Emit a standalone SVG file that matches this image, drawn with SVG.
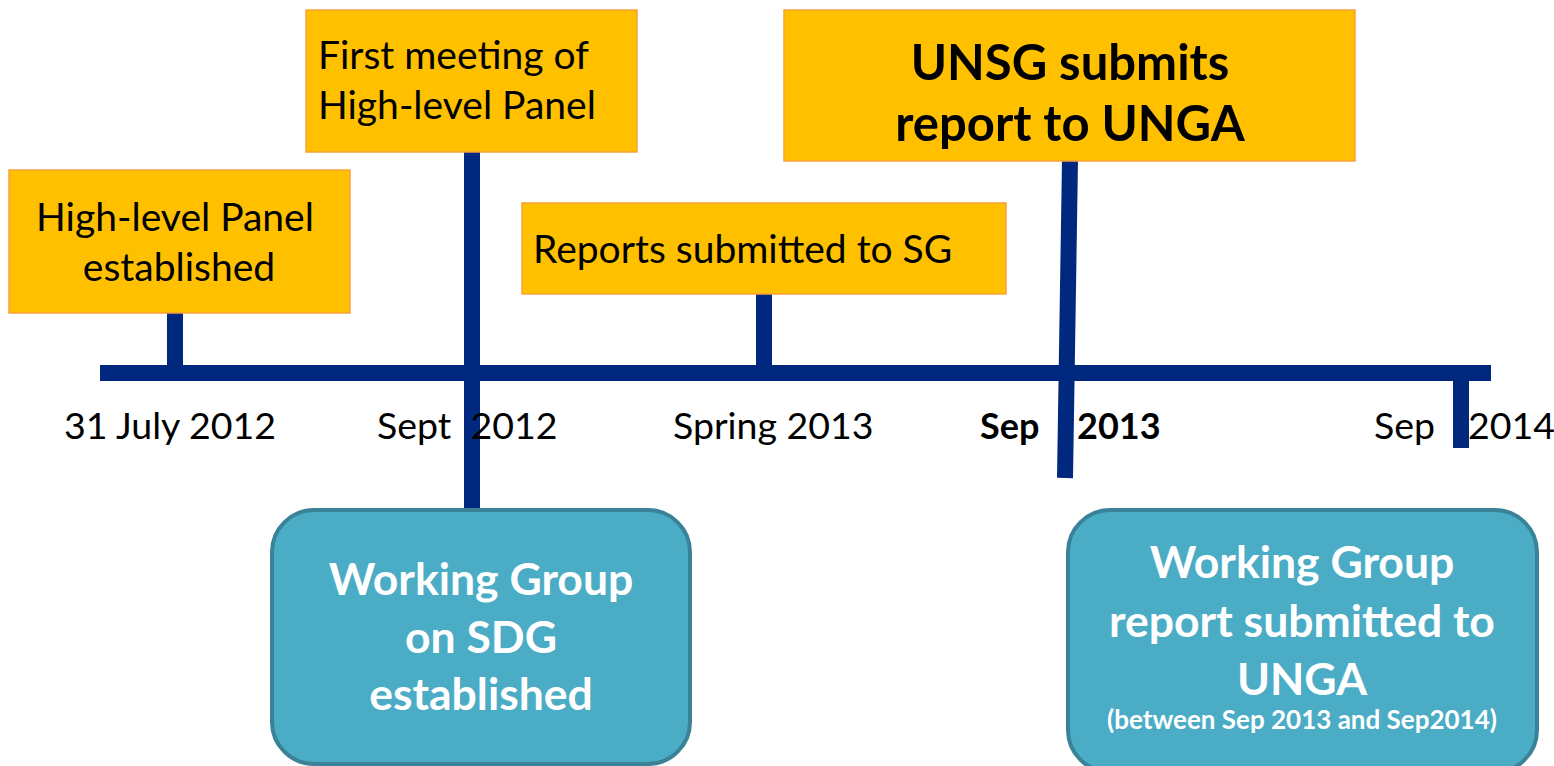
<svg xmlns="http://www.w3.org/2000/svg" width="1554" height="766" viewBox="0 0 1554 766">
  <style>
    .event { fill: #FFC000; stroke: #F7A13A; stroke-width: 1.5; }
    .group { fill: #4BACC6; stroke: #3A8297; stroke-width: 4; }
    .bar { stroke: #00287F; stroke-width: 16; fill: none; }
    .t { font-family: Lato, "Open Sans", "Liberation Sans", sans-serif; fill: #000; }
    .reg { font-size: 39px; }
    .big { font-size: 49px; font-weight: bold; }
    .axis { font-size: 37.5px; }
    .axisb { font-size: 36px; font-weight: bold; }
    .w { fill: #FFFFFF; font-weight: bold; font-size: 44.5px; }
    .small { fill: #FFFFFF; font-weight: bold; font-size: 26px; }
  </style>

  <!-- timeline axis and stems -->
  <g id="connectors">
    <line class="bar" x1="100" y1="373" x2="1491" y2="373"/>
    <line class="bar" x1="175" y1="313" x2="175" y2="373"/>
    <line class="bar" x1="472" y1="152" x2="472" y2="508"/>
    <line class="bar" x1="764" y1="294" x2="764" y2="373"/>
    <line class="bar" x1="1070" y1="160" x2="1065" y2="478"/>
    <line class="bar" x1="1461" y1="366" x2="1461" y2="448"/>
  </g>

  <g id="panel-established">
    <rect class="event" x="9" y="170" width="341" height="143"/>
    <text class="t reg" text-anchor="middle" x="175" y="231">High-level Panel</text>
    <text class="t reg" text-anchor="middle" x="179" y="281">established</text>
  </g>

  <g id="first-meeting">
    <rect class="event" x="306" y="10" width="331" height="142"/>
    <text class="t reg" x="318" y="69">First meeting of</text>
    <text class="t reg" x="318" y="119">High-level Panel</text>
  </g>

  <g id="reports-sg">
    <rect class="event" x="522" y="203" width="484" height="91"/>
    <text class="t reg" x="533" y="263">Reports submitted to SG</text>
  </g>

  <g id="unsg-report">
    <rect class="event" x="784" y="10" width="571" height="151"/>
    <text class="t big" text-anchor="middle" x="1070" y="80">UNSG submits</text>
    <text class="t big" text-anchor="middle" x="1070" y="141">report to UNGA</text>
  </g>

  <g id="axis-labels">
    <text class="t axis" x="64" y="439">31 July 2012</text>
    <text class="t axis" x="377" y="439" xml:space="preserve">Sept  2012</text>
    <text class="t axis" x="673" y="439">Spring 2013</text>
    <text class="t axisb" x="980" y="439">Sep</text>
    <text class="t axisb" x="1077" y="439">2013</text>
    <text class="t axis" x="1374" y="439">Sep</text>
    <text class="t axis" x="1468" y="439">2014</text>
  </g>

  <g id="working-group">
    <rect class="group" x="272" y="510" width="418" height="254" rx="42" ry="42"/>
    <text class="t w" text-anchor="middle" x="481" y="595">Working Group</text>
    <text class="t w" text-anchor="middle" x="481" y="653">on SDG</text>
    <text class="t w" text-anchor="middle" x="481" y="710">established</text>
  </g>

  <g id="working-group-report">
    <rect class="group" x="1068" y="510" width="469" height="262" rx="42" ry="42"/>
    <text class="t w" text-anchor="middle" x="1302" y="578">Working Group</text>
    <text class="t w" text-anchor="middle" x="1302" y="637">report submitted to</text>
    <text class="t w" text-anchor="middle" x="1302" y="695">UNGA</text>
    <text class="t small" text-anchor="middle" x="1302" y="729">(between Sep 2013 and Sep2014)</text>
  </g>
</svg>
